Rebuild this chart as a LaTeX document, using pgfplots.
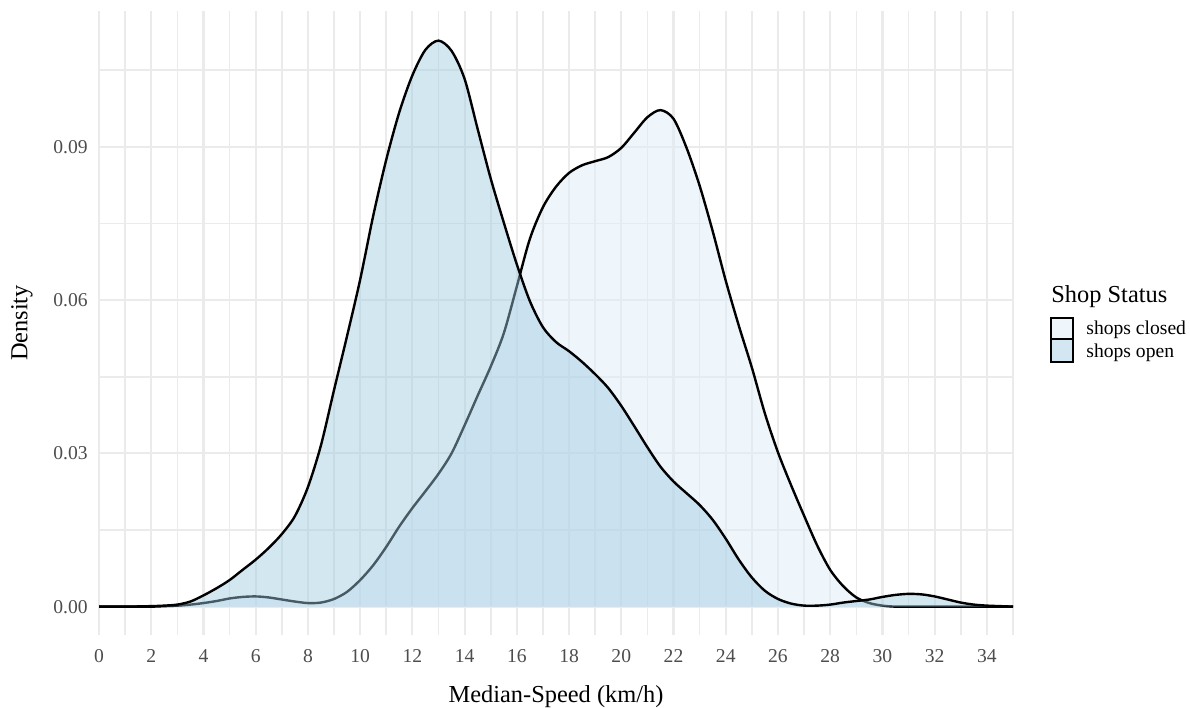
\documentclass[border=0pt]{standalone}
\usepackage{fontspec}
\setmainfont{Liberation Serif}
\usepackage{pgfplots}
\pgfplotsset{compat=1.18}

\definecolor{gridgrey}{HTML}{EBEBEB}
\definecolor{ticktext}{HTML}{4D4D4D}
\definecolor{closedfill}{HTML}{DEEBF7}
\definecolor{openfill}{HTML}{9ECAE1}

% density estimates, every 0.5 km/h
\pgfplotstableread{
x d
0 0
1 0
2 0
2.5 0.0001
3 0.0002
3.5 0.0004
4 0.0007
4.5 0.0011
5 0.0016
5.5 0.0019
6 0.0020
6.5 0.0018
7 0.0014
7.5 0.0010
8 0.0007
8.5 0.0008
9 0.0015
9.5 0.0029
10 0.0052
10.5 0.0081
11 0.0117
11.5 0.0157
12 0.0193
12.5 0.0226
13 0.0260
13.5 0.0300
14 0.0355
14.5 0.0413
15 0.0470
15.5 0.0535
16 0.0627
16.5 0.0720
17 0.0782
17.5 0.0822
18 0.0849
18.5 0.0864
19 0.0872
19.5 0.0880
20 0.0898
20.5 0.0928
21 0.0958
21.5 0.0972
22 0.0955
22.5 0.0898
23 0.0824
23.5 0.0735
24 0.0638
24.5 0.0550
25 0.0468
25.5 0.0378
26 0.0302
26.5 0.0238
27 0.0178
27.5 0.0120
28 0.0072
28.5 0.0040
29 0.0018
29.5 0.0007
30 0.0002
30.5 0
31 0
35 0
}\closedtab

\pgfplotstableread{
x d
0 0
1 0
2 0.0001
2.5 0.0002
3 0.0004
3.5 0.0010
4 0.0022
4.5 0.0036
5 0.0052
5.5 0.0072
6 0.0092
6.5 0.0115
7 0.0142
7.5 0.0177
8 0.0234
8.5 0.0316
9 0.0424
9.5 0.0530
10 0.0640
10.5 0.0765
11 0.0875
11.5 0.0968
12 0.1040
12.5 0.1090
13 0.1108
13.5 0.1088
14 0.1033
14.5 0.0935
15 0.0838
15.5 0.0752
16 0.0670
16.5 0.0598
17 0.0547
17.5 0.0518
18 0.0500
18.5 0.0479
19 0.0455
19.5 0.0428
20 0.0393
20.5 0.0353
21 0.0312
21.5 0.0274
22 0.0245
22.5 0.0222
23 0.0199
23.5 0.0170
24 0.0133
24.5 0.0092
25 0.0057
25.5 0.0031
26 0.0015
26.5 0.0006
27 0.0002
27.5 0.0002
28 0.0004
28.5 0.0008
29 0.0011
29.5 0.0014
30 0.0019
30.5 0.0023
31 0.0025
31.5 0.0024
32 0.0020
32.5 0.0014
33 0.0008
33.5 0.0004
34 0.0002
34.5 0.0001
35 0
}\opentab

\begin{document}
\begin{tikzpicture}
\path[use as bounding box] (0,0) rectangle (595bp,354bp);
\begin{axis}[
  at={(49.5bp,36.5bp)}, anchor=south west,
  scale only axis, width=457bp, height=312bp,
  xmin=0, xmax=35, ymin=-0.00555, ymax=0.1166,
  xtick={0,2,...,34}, minor xtick={1,3,...,35},
  ytick={0,0.03,0.06,0.09}, yticklabels={0.00,0.03,0.06,0.09},
  minor ytick={0.015,0.045,0.075,0.105},
  grid=both,
  major grid style={gridgrey, line width=1.1bp},
  minor grid style={gridgrey, line width=0.8bp},
  axis line style={draw=none},
  tick style={draw=none},
  /pgf/number format/assume math mode=true,
  ticklabel style={font=\fontsize{9.8bp}{11bp}\selectfont, text=ticktext, inner sep=0pt},
  xticklabel style={anchor=center, yshift=-10.5bp},
  yticklabel style={anchor=east, xshift=-5.5bp},
]
\addplot[draw=none, fill=closedfill, fill opacity=0.5, smooth, forget plot] table {\closedtab} \closedcycle;
\addplot[black, line width=1.2bp, smooth, forget plot] table {\closedtab};
\addplot[draw=none, fill=openfill, fill opacity=0.45, smooth, forget plot] table {\opentab} \closedcycle;
\addplot[black, line width=1.2bp, smooth, forget plot] table {\opentab};
\end{axis}

\node[rotate=90, inner sep=0pt, font=\fontsize{12.2bp}{14bp}\selectfont] at (11bp,192.5bp) {Density};
\node[anchor=base, inner sep=0pt, font=\fontsize{12.2bp}{14bp}\selectfont] at (278bp,3bp) {Median-Speed (km/h)};

% legend
\node[anchor=base west, inner sep=0pt, font=\fontsize{12.2bp}{14bp}\selectfont] at (525.5bp,202.5bp) {Shop Status};
\draw[line width=1.1bp, fill=closedfill!50!white] (525.5bp,184.5bp) rectangle (536.5bp,195bp);
\draw[line width=1.1bp, fill=openfill!45!white] (525.5bp,173bp) rectangle (536.5bp,184.5bp);
\node[anchor=base west, inner sep=0pt, font=\fontsize{9.8bp}{11bp}\selectfont] at (543bp,186.5bp) {shops closed};
\node[anchor=base west, inner sep=0pt, font=\fontsize{9.8bp}{11bp}\selectfont] at (543bp,175bp) {shops open};
\end{tikzpicture}
\end{document}
